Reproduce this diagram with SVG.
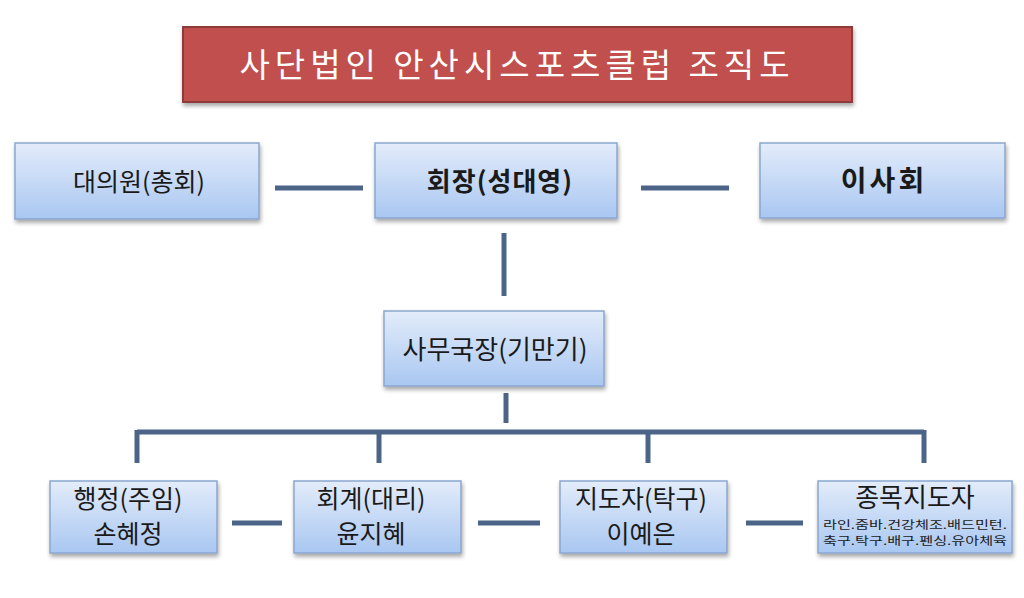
<svg xmlns="http://www.w3.org/2000/svg" width="1024" height="598" viewBox="0 0 1024 598">
<defs>
<linearGradient id="bg" x1="0" y1="0" x2="0" y2="1">
<stop offset="0" stop-color="#e3ecfa"/>
<stop offset="1" stop-color="#a9c7f1"/>
</linearGradient>
<filter id="sh" x="-10%" y="-10%" width="130%" height="140%">
<feGaussianBlur in="SourceAlpha" stdDeviation="2"/>
<feOffset dx="1" dy="3"/>
<feComponentTransfer><feFuncA type="linear" slope="0.35"/></feComponentTransfer>
<feMerge><feMergeNode/><feMergeNode in="SourceGraphic"/></feMerge>
</filter>
</defs>
<style>
.box{fill:url(#bg);stroke:#8aa6d0;stroke-width:1.5;filter:url(#sh)}
.t{font-family:"Noto Sans CJK KR","Liberation Sans",sans-serif;fill:#1a1a1a;text-anchor:middle}
.c{stroke:#4b6488;stroke-width:5;fill:none}
</style>
<rect width="1024" height="598" fill="#ffffff"/>
<g id="title">
<rect x="183" y="27" width="669" height="75" fill="#c0504d" stroke="#8c3a38" stroke-width="2" filter="url(#sh)"/>
<text x="517" y="77" font-family="Noto Sans CJK KR, sans-serif" font-size="33" fill="#ffffff" text-anchor="middle" letter-spacing="5">사단법인 안산시스포츠클럽 조직도</text>
</g>
<g id="connectors">
<line class="c" x1="275" y1="188" x2="363" y2="188"/>
<line class="c" x1="641" y1="188" x2="729" y2="188"/>
<line class="c" x1="504" y1="233" x2="504" y2="296"/>
<line class="c" x1="506" y1="393" x2="506" y2="423"/>
<line class="c" x1="137" y1="432" x2="924" y2="432"/>
<line class="c" x1="137" y1="430" x2="137" y2="463"/>
<line class="c" x1="379" y1="430" x2="379" y2="463"/>
<line class="c" x1="648" y1="430" x2="648" y2="463"/>
<line class="c" x1="924" y1="430" x2="924" y2="463"/>
<line class="c" x1="232" y1="523" x2="282" y2="523"/>
<line class="c" x1="478" y1="523" x2="540" y2="523"/>
<line class="c" x1="746" y1="523" x2="803" y2="523"/>
</g>
<g id="n-daeuiwon">
<rect class="box" x="15" y="143" width="244" height="76"/>
<text class="t" x="139" y="191" font-size="25">대의원(총회)</text>
</g>
<g id="n-hoejang">
<rect class="box" x="375" y="143" width="242" height="75"/>
<text class="t" x="500" y="191" font-size="26" font-weight="bold" letter-spacing="1">회장(성대영)</text>
</g>
<g id="n-isahoe">
<rect class="box" x="760" y="143" width="245" height="75"/>
<text class="t" x="884" y="191" font-size="28" font-weight="bold" letter-spacing="3">이사회</text>
</g>
<g id="n-samuguk">
<rect class="box" x="384" y="311" width="220" height="75"/>
<text class="t" x="495" y="359" font-size="26">사무국장(기만기)</text>
</g>
<g id="n-haengjeong">
<rect class="box" x="50" y="481" width="167" height="72"/>
<text class="t" x="128" y="508" font-size="25">행정(주임)</text>
<text class="t" x="128" y="543" font-size="25">손혜정</text>
</g>
<g id="n-hoegye">
<rect class="box" x="294" y="481" width="167" height="72"/>
<text class="t" x="371" y="508" font-size="25">회계(대리)</text>
<text class="t" x="371" y="543" font-size="25">윤지혜</text>
</g>
<g id="n-jidoja">
<rect class="box" x="560" y="481" width="167" height="72"/>
<text class="t" x="641" y="508" font-size="25">지도자(탁구)</text>
<text class="t" x="641" y="543" font-size="25">이예은</text>
</g>
<g id="n-jongmok">
<rect class="box" x="818" y="481" width="194" height="72"/>
<text class="t" x="915" y="507" font-size="26">종목지도자</text>
<text class="t" x="915" y="529" font-size="11.5" textLength="184" lengthAdjust="spacingAndGlyphs">라인.줌바.건강체조.배드민턴.</text>
<text class="t" x="915" y="545" font-size="11.5" textLength="184" lengthAdjust="spacingAndGlyphs">축구.탁구.배구.펜싱.유아체육</text>
</g>
</svg>
